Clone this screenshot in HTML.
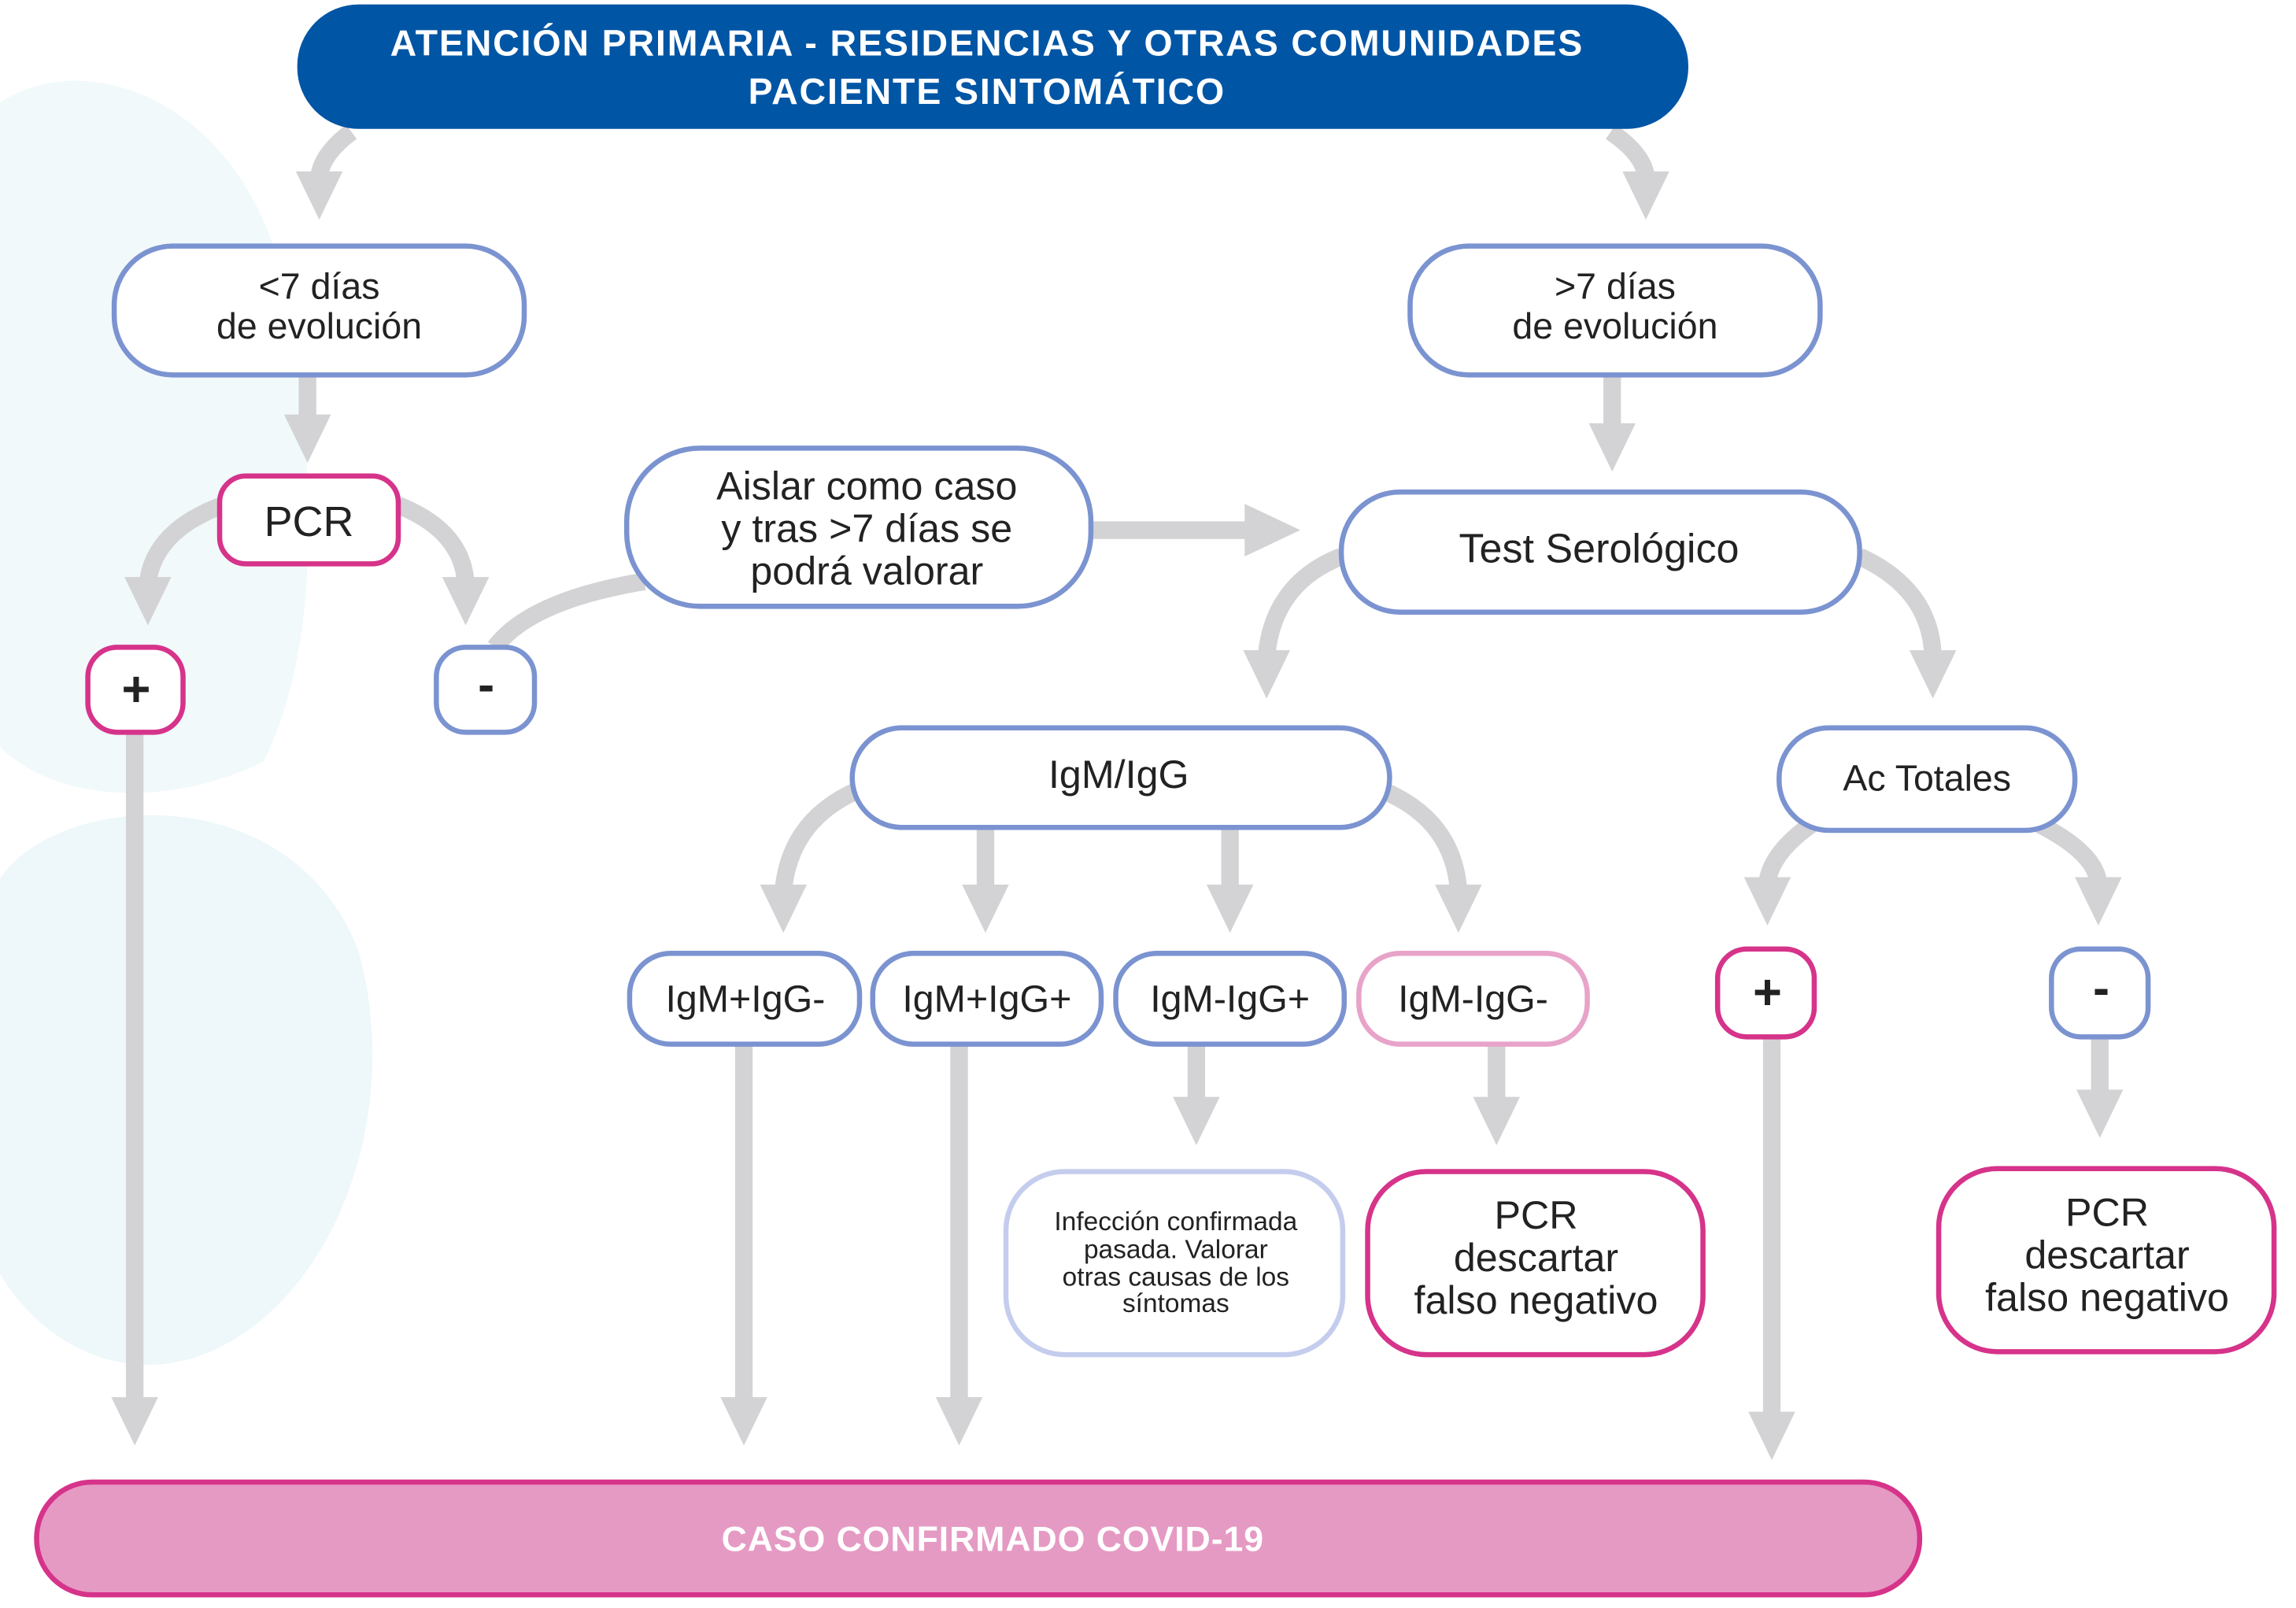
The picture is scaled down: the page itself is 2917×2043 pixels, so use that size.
<!DOCTYPE html>
<html><head><meta charset="utf-8"><style>html,body{margin:0;padding:0;background:#fff}svg{display:block}</style></head>
<body>
<svg width="2917" height="2043" viewBox="0 0 1568 1098" preserveAspectRatio="none" xmlns="http://www.w3.org/2000/svg" font-family="Liberation Sans, sans-serif">
<defs>
<g id="h"><polygon points="-16,0 16,0 0,33" fill="#d3d3d5"/></g>
</defs>
<path d="M0,70 C60,30 170,70 195,200 C220,340 215,450 180,520 C120,550 40,550 0,510 Z" fill="#f1f9fb"/>
<path d="M0,600 C40,540 200,530 245,650 C275,760 230,880 150,920 C90,950 30,920 0,870 Z" fill="#eef7fa"/>
<g stroke="#d3d3d5" stroke-width="12" fill="none">
<path d="M240,90 Q220,105 218,120"/>
<path d="M1100,90 Q1122,105 1124,120"/>
<path d="M210,256 V286"/>
<path d="M1101,256 V292"/>
<path d="M152,345 Q106,362 101,397"/>
<path d="M272,345 Q315,362 318,397"/>
<path d="M338,442 Q362,410 440,397"/>
<path d="M745,362 H852"/>
<path d="M916,380 Q870,398 865,447"/>
<path d="M1270,380 Q1318,402 1320,447"/>
<path d="M585,540 Q540,560 535,607"/>
<path d="M673,565 V607"/>
<path d="M840,565 V607"/>
<path d="M945,540 Q992,560 996,607"/>
<path d="M1237,563 Q1210,582 1207,602"/>
<path d="M1393,563 Q1430,582 1433,602"/>
<path d="M92,500 V957"/>
<path d="M508,713 V957"/>
<path d="M655,713 V957"/>
<path d="M817,713 V752"/>
<path d="M1022,713 V752"/>
<path d="M1210,708 V967"/>
<path d="M1434,708 V747"/>
</g>
<g fill="#d3d3d5">
<use href="#h" x="218" y="117"/>
<use href="#h" x="1124" y="117"/>
<use href="#h" x="210" y="283"/>
<use href="#h" x="1101" y="289"/>
<use href="#h" x="101" y="394"/>
<use href="#h" x="318" y="394"/>
<polygon points="850,344 850,380 888,362"/>
<use href="#h" x="865" y="444"/>
<use href="#h" x="1320" y="444"/>
<use href="#h" x="535" y="604"/>
<use href="#h" x="673" y="604"/>
<use href="#h" x="840" y="604"/>
<use href="#h" x="996" y="604"/>
<use href="#h" x="1207" y="599"/>
<use href="#h" x="1433" y="599"/>
<use href="#h" x="92" y="954"/>
<use href="#h" x="508" y="954"/>
<use href="#h" x="655" y="954"/>
<use href="#h" x="817" y="749"/>
<use href="#h" x="1022" y="749"/>
<use href="#h" x="1210" y="964"/>
<use href="#h" x="1434" y="744"/>
</g>
<rect x="203" y="3" width="950" height="85" rx="42" fill="#0055a5"/>
<g fill="#fff" font-weight="bold" font-size="25" text-anchor="middle" letter-spacing="1">
<text x="674" y="38">ATENCIÓN PRIMARIA - RESIDENCIAS Y OTRAS COMUNIDADES</text>
<text x="674" y="71">PACIENTE SINTOMÁTICO</text>
</g>
<g fill="#fff" stroke-width="3.5">
<rect x="78" y="168" width="280" height="88" rx="40" stroke="#7b93d0"/>
<rect x="963" y="168" width="280" height="88" rx="40" stroke="#7b93d0"/>
<rect x="150" y="325" width="122" height="60" rx="18" stroke="#d6338a"/>
<rect x="428" y="306" width="317" height="108" rx="50" stroke="#7b93d0"/>
<rect x="916" y="336" width="354" height="82" rx="40" stroke="#7b93d0"/>
<rect x="60" y="442" width="65" height="58" rx="20" stroke="#d6338a"/>
<rect x="298" y="442" width="67" height="58" rx="20" stroke="#7b93d0"/>
<rect x="582" y="497" width="367" height="68" rx="34" stroke="#7b93d0"/>
<rect x="1215" y="497" width="202" height="70" rx="34" stroke="#7b93d0"/>
<rect x="430" y="651" width="157" height="62" rx="28" stroke="#7b93d0"/>
<rect x="596" y="651" width="156" height="62" rx="28" stroke="#7b93d0"/>
<rect x="762" y="651" width="156" height="62" rx="28" stroke="#7b93d0"/>
<rect x="928" y="651" width="156" height="62" rx="28" stroke="#e8a3c9"/>
<rect x="1173" y="648" width="66" height="60" rx="20" stroke="#d6338a"/>
<rect x="1401" y="648" width="66" height="60" rx="20" stroke="#7b93d0"/>
<rect x="687" y="800" width="230" height="125" rx="40" stroke="#c5cdee"/>
<rect x="934" y="800" width="229" height="125" rx="40" stroke="#d6338a"/>
<rect x="1324" y="798" width="229" height="125" rx="40" stroke="#d6338a"/>
</g>
<rect x="25" y="1012" width="1286" height="77" rx="38" fill="#e59ac3" stroke="#d6338a" stroke-width="3.5"/>
<text x="678" y="1059" fill="#fff" font-weight="bold" font-size="24" text-anchor="middle" letter-spacing="0.5">CASO CONFIRMADO COVID-19</text>
<g fill="#222" text-anchor="middle" font-size="25">
<text x="218" y="204">&lt;7 días</text><text x="218" y="231">de evolución</text>
<text x="1103" y="204">&gt;7 días</text><text x="1103" y="231">de evolución</text>
<text x="211" y="366" font-size="29">PCR</text>
<g font-size="27"><text x="592" y="341">Aislar como caso</text><text x="592" y="370">y tras &gt;7 días se</text><text x="592" y="399">podrá valorar</text></g>
<text x="1092" y="384" font-size="28">Test Serológico</text>
<text x="93" y="482" font-size="34" font-weight="bold">+</text>
<text x="332" y="479" font-size="34" font-weight="bold">-</text>
<text x="764" y="538" font-size="27">IgM/IgG</text>
<text x="1316" y="540">Ac Totales</text>
<g font-size="26"><text x="509" y="691">IgM+IgG-</text><text x="674" y="691">IgM+IgG+</text><text x="840" y="691">IgM-IgG+</text><text x="1006" y="691">IgM-IgG-</text></g>
<text x="1207" y="689" font-size="34" font-weight="bold">+</text>
<text x="1435" y="686" font-size="34" font-weight="bold">-</text>
<g font-size="18"><text x="803" y="840">Infección confirmada</text><text x="803" y="859">pasada. Valorar</text><text x="803" y="878">otras causas de los</text><text x="803" y="896">síntomas</text></g>
<g font-size="27"><text x="1049" y="839">PCR</text><text x="1049" y="868">descartar</text><text x="1049" y="897">falso negativo</text>
<text x="1439" y="837">PCR</text><text x="1439" y="866">descartar</text><text x="1439" y="895">falso negativo</text></g>
</g>
</svg>
</body></html>
